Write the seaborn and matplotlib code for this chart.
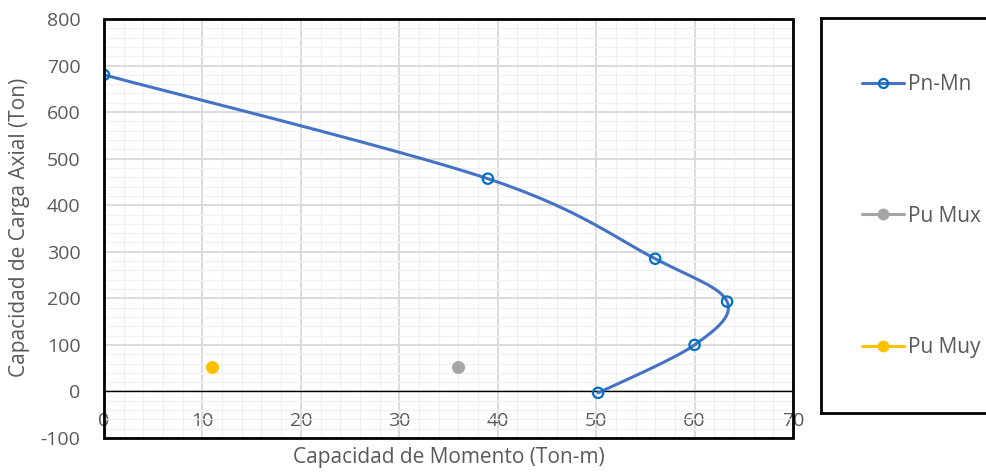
import numpy as np
import pandas as pd
import matplotlib
matplotlib.use("Agg")
import matplotlib.pyplot as plt
import seaborn as sns
from matplotlib.patches import Rectangle
from matplotlib.lines import Line2D

# ---- data ----
mn_x = [0, 39, 56, 63.3, 60, 50.2]
pn_y = [680, 457, 285, 193, 100, -3]
mux_x = [36]
mux_y = [52]
muy_x = [11]
muy_y = [52]
series_names = ["Pn-Mn", "Pu Mux", "Pu Muy"]
x_ticks = [0, 10, 20, 30, 40, 50, 60, 70]
y_ticks = [-100, 0, 100, 200, 300, 400, 500, 600, 700, 800]

sns.set_theme(style="white")
plt.rcParams['font.family'] = ['Open Sans', 'DejaVu Sans']
plt.rcParams['axes.unicode_minus'] = False

TXT = "#595959"
BLUE_LINE = "#4472C4"
BLUE_MK = "#0070C0"
GRAY = "#A5A5A5"
YEL = "#FFC000"

fig = plt.figure(figsize=(9.87, 4.72), dpi=100)
W, H = 987, 472
ax = fig.add_axes([104 / W, 1 - 438 / H, (793 - 104) / W, (438 - 19) / H])


def smooth(xs, ys, n=40):
    P = np.column_stack([xs, ys]).astype(float)
    m = len(P)
    out = []
    for i in range(m - 1):
        p0 = P[i - 1] if i > 0 else P[i]
        p1 = P[i]
        p2 = P[i + 1]
        p3 = P[i + 2] if i + 2 < m else P[i + 1]
        c1 = p1 + (p2 - p0) / 6.0
        c2 = p2 - (p3 - p1) / 6.0
        t = np.linspace(0, 1, n)[:, None]
        seg = ((1 - t) ** 3) * p1 + 3 * ((1 - t) ** 2) * t * c1 + 3 * (1 - t) * t ** 2 * c2 + t ** 3 * p2
        out.append(seg if i == 0 else seg[1:])
    return np.vstack(out)


curve = smooth(mn_x, pn_y)
df_curve = pd.DataFrame({"x": curve[:, 0], "y": curve[:, 1]})
ax.plot(df_curve["x"], df_curve["y"], color=BLUE_LINE, lw=2.2, zorder=3)

df_pts = pd.DataFrame({"x": mn_x, "y": pn_y})
sns.scatterplot(data=df_pts, x="x", y="y", ax=ax, s=55, facecolor="none",
                edgecolor=BLUE_MK, linewidth=1.6, zorder=4, legend=False)
sns.scatterplot(x=mux_x, y=mux_y, ax=ax, s=75, color=GRAY, edgecolor=GRAY, zorder=4, legend=False)
sns.scatterplot(x=muy_x, y=muy_y, ax=ax, s=75, color=YEL, edgecolor=YEL, zorder=4, legend=False)

ax.set_xlim(0, 70)
ax.set_ylim(-100, 800)
ax.set_xticks(x_ticks)
ax.set_yticks(y_ticks)
ax.set_xticks(np.arange(0, 71, 2), minor=True)
ax.set_yticks(np.arange(-100, 801, 20), minor=True)
ax.grid(True, which="major", color="#D9D9D9", lw=1.3, zorder=0)
ax.grid(True, which="minor", color="#F0F0F0", lw=0.9, zorder=0)
ax.set_axisbelow(True)

for s in ["top", "right"]:
    ax.spines[s].set_visible(False)
ax.spines["bottom"].set_position(("data", 0))
ax.spines["bottom"].set_color("black")
ax.spines["bottom"].set_linewidth(1.0)
ax.spines["left"].set_color("black")
ax.spines["left"].set_linewidth(1.0)

ax.tick_params(axis="x", which="major", direction="in", length=6, width=1, color="black",
               labelsize=14, labelcolor=TXT, pad=15)
ax.tick_params(axis="y", which="major", direction="in", length=6, width=1, color="black",
               labelsize=14, labelcolor=TXT, pad=17)
ax.tick_params(which="minor", length=0)
ax.set_xlabel("")
ax.set_ylabel("")

frame = Rectangle((0, 0), 1, 1, transform=ax.transAxes, fill=False, edgecolor="black",
                  lw=2, clip_on=False, zorder=5)
ax.add_patch(frame)

fig.text(449 / W, 1 - 458 / H, "Capacidad de Momento (Ton-m)", ha="center", va="center",
         fontsize=15, color=TXT)
fig.text(20 / W, 1 - 227 / H, "Capacidad de Carga Axial (Ton)", ha="center", va="center",
         rotation=90, fontsize=15, color=TXT)

# legend box
lax = fig.add_axes([821 / W, 1 - 413 / H, (990 - 821) / W, (413 - 18) / H])
lax.set_xticks([])
lax.set_yticks([])
lax.set_facecolor("white")
for s in lax.spines.values():
    s.set_color("black")
    s.set_linewidth(2)
lax.set_xlim(0, 1)
lax.set_ylim(0, 1)

handles = [
    Line2D([], [], color=BLUE_LINE, lw=2.2, marker="o", markersize=6.5, markerfacecolor="none",
           markeredgecolor=BLUE_MK, markeredgewidth=1.6),
    Line2D([], [], color=GRAY, lw=2.2, marker="o", markersize=7.5, markerfacecolor=GRAY,
           markeredgecolor=GRAY),
    Line2D([], [], color=YEL, lw=2.2, marker="o", markersize=7.5, markerfacecolor=YEL,
           markeredgecolor=YEL),
]
leg_y = [85, 216, 348]
for h, name, yy in zip(handles, series_names, leg_y):
    lg = fig.legend([h], [name], loc="center left",
                    bbox_to_anchor=(862 / W, 1 - yy / H), frameon=False,
                    fontsize=15, handlelength=2.0, handletextpad=0.2, borderpad=0,
                    borderaxespad=0, labelcolor=TXT)

fig.savefig("out.png", dpi=100)
